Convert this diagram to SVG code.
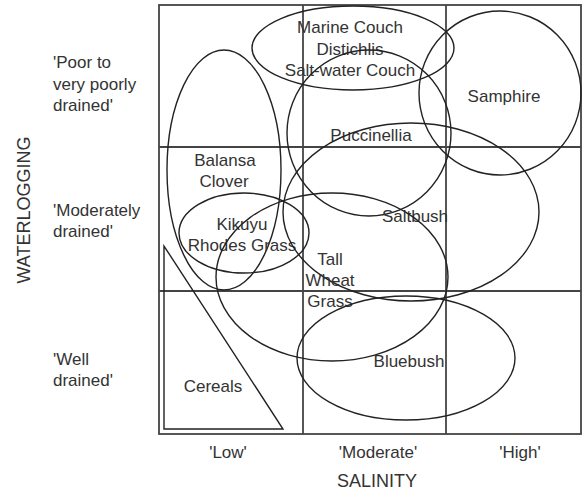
<svg xmlns="http://www.w3.org/2000/svg" width="585" height="495" viewBox="0 0 585 495">
<style>
.bg{fill:#ffffff}
.grid{fill:none;stroke:#444;stroke-width:1.8}
.shape{fill:none;stroke:#222;stroke-width:1.4}
.t{font-family:"Liberation Sans",Arial,sans-serif;font-size:17px;fill:#333;text-anchor:middle}
.tl{font-family:"Liberation Sans",Arial,sans-serif;font-size:17px;fill:#333}
.ax{font-family:"Liberation Sans",Arial,sans-serif;font-size:18px;fill:#333;text-anchor:middle}
</style>
<rect class="bg" x="0" y="0" width="585" height="495"/>
<g id="grid">
<rect class="grid" x="159" y="5" width="422" height="429"/>
<line class="grid" x1="303" y1="5" x2="303" y2="434"/>
<line class="grid" x1="446" y1="5" x2="446" y2="434"/>
<line class="grid" x1="159" y1="147" x2="581" y2="147"/>
<line class="grid" x1="159" y1="291" x2="581" y2="291"/>
</g>
<g id="axis-labels">
<text class="tl" x="53" y="68">'Poor to</text>
<text class="tl" x="53" y="90">very poorly</text>
<text class="tl" x="53" y="111">drained'</text>
<text class="tl" x="53" y="216">'Moderately</text>
<text class="tl" x="53" y="237">drained'</text>
<text class="tl" x="53" y="365">'Well</text>
<text class="tl" x="53" y="386">drained'</text>
<text class="ax" transform="translate(30,210) rotate(-90)">WATERLOGGING</text>
<text class="t" x="228" y="458">'Low'</text>
<text class="t" x="378" y="458">'Moderate'</text>
<text class="t" x="520" y="458">'High'</text>
<text class="ax" x="377" y="487">SALINITY</text>
</g>
<g id="cereals">
<polygon class="shape" points="164,246 164,429 283,429"/>
<text class="t" x="213" y="392">Cereals</text>
</g>
<g id="balansa-clover">
<ellipse class="shape" cx="224" cy="170" rx="57" ry="120"/>
<text class="t" x="225" y="166">Balansa</text>
<text class="t" x="224" y="187">Clover</text>
</g>
<g id="kikuyu">
<ellipse class="shape" cx="244" cy="233" rx="65" ry="40"/>
<text class="t" x="242" y="230">Kikuyu</text>
<text class="t" x="242" y="251">Rhodes Grass</text>
</g>
<g id="marine-couch">
<ellipse class="shape" cx="353" cy="48" rx="101" ry="42"/>
<text class="t" x="350" y="33">Marine Couch</text>
<text class="t" x="350" y="55">Distichlis</text>
<text class="t" x="350" y="76">Salt-water Couch</text>
</g>
<g id="samphire">
<ellipse class="shape" cx="500" cy="93" rx="81" ry="82"/>
<text class="t" x="504" y="102">Samphire</text>
</g>
<g id="puccinellia">
<ellipse class="shape" cx="369" cy="133" rx="82" ry="83"/>
<text class="t" x="371" y="141">Puccinellia</text>
</g>
<g id="saltbush">
<ellipse class="shape" cx="411" cy="212" rx="128" ry="89"/>
<text class="t" x="415" y="222">Saltbush</text>
</g>
<g id="tall-wheat-grass">
<ellipse class="shape" cx="332" cy="277" rx="116" ry="84"/>
<text class="t" x="330" y="265">Tall</text>
<text class="t" x="330" y="286">Wheat</text>
<text class="t" x="330" y="307">Grass</text>
</g>
<g id="bluebush">
<ellipse class="shape" cx="406" cy="358" rx="109" ry="62"/>
<text class="t" x="409" y="367">Bluebush</text>
</g>
<g id="connectors"></g>
</svg>
